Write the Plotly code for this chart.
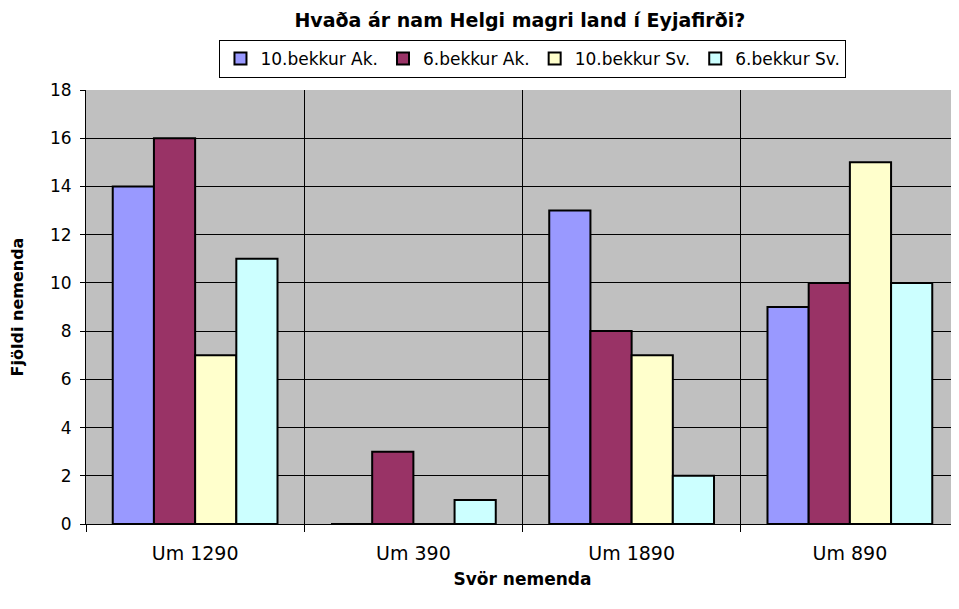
import plotly.graph_objects as go

categories = ["Um 1290", "Um 390", "Um 1890", "Um 890"]
series_names = ["10.bekkur Ak.", "6.bekkur Ak.", "10.bekkur Sv.", "6.bekkur Sv."]
s10_ak = [14, 0, 13, 9]
s6_ak = [16, 3, 8, 10]
s10_sv = [7, 0, 7, 15]
s6_sv = [11, 1, 2, 10]
colors = ["#9999FF", "#993366", "#FFFFCC", "#CCFFFF"]

fig = go.Figure()
for name, vals, col in zip(series_names, [s10_ak, s6_ak, s10_sv, s6_sv], colors):
    fig.add_trace(go.Bar(
        x=categories, y=vals, name=name,
        marker=dict(color=col, line=dict(color="black", width=2)),
    ))

font = "DejaVu Sans, Liberation Sans, Arial, sans-serif"
fig.update_layout(
    width=951, height=601,
    margin=dict(l=78, r=0, t=82, b=85, pad=0),
    paper_bgcolor="white",
    plot_bgcolor="#C0C0C0",
    barmode="group",
    bargap=0.245,
    bargroupgap=0,
    font=dict(family=font, size=16, color="black"),
    title=dict(text="<b>Hvaða ár nam Helgi magri land í Eyjafirði?</b>",
               x=0.497, xref="paper", xanchor="center",
               y=0.980, yref="container", yanchor="middle",
               font=dict(size=19, family=font)),
    legend=dict(orientation="h", x=0.512, xanchor="center", y=1.0276, yanchor="bottom",
                bordercolor="black", borderwidth=1, bgcolor="white",
                font=dict(size=17, family=font), traceorder="normal",
                itemwidth=30, tracegroupgap=0),
    xaxis=dict(
        title=dict(text="<b>Svör nemenda</b>", font=dict(size=17), standoff=10),
        tickson="boundaries", ticks="outside", ticklen=7, tickcolor="black",
        ticklabelstandoff=12,
        showgrid=True, gridcolor="black", gridwidth=1,
        showline=True, linecolor="black", linewidth=1,
        tickfont=dict(size=19),
    ),
    yaxis=dict(
        title=dict(text="<b>Fjöldi nemenda</b>", font=dict(size=16), standoff=22),
        range=[0, 18], dtick=2, ticks="outside", ticklen=5, tickcolor="black",
        ticklabelstandoff=5,
        showgrid=True, gridcolor="black", gridwidth=1,
        showline=True, linecolor="black", linewidth=1,
        zeroline=False, tickfont=dict(size=17),
    ),
)

fig.write_html("out.html")
